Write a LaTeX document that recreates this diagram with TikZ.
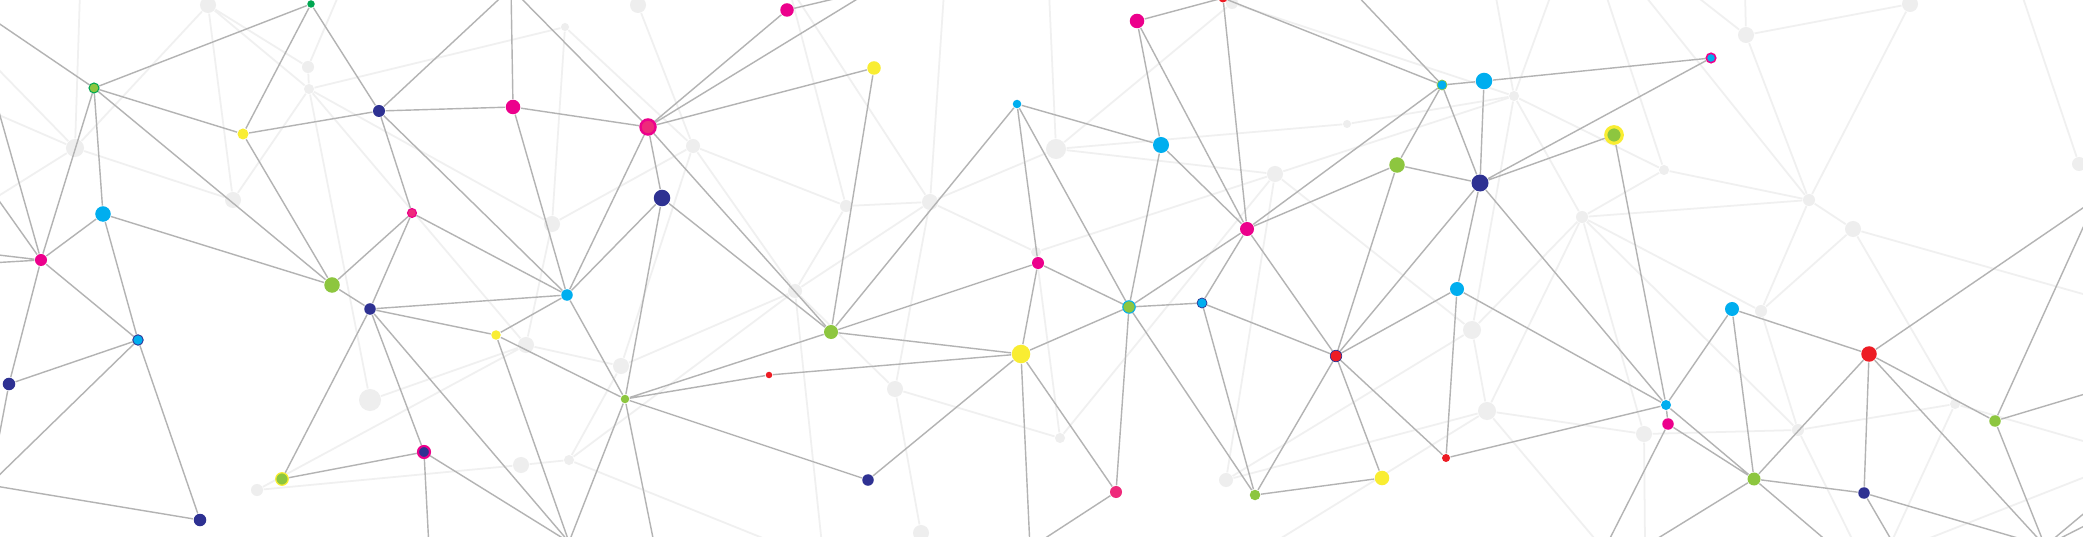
\documentclass[tikz,border=0pt]{standalone}
\definecolor{omag}{HTML}{EC008C}
\definecolor{opink}{HTML}{EE2A7B}
\definecolor{ocyan}{HTML}{00AEEF}
\definecolor{onavy}{HTML}{2E3192}
\definecolor{ogreen}{HTML}{8DC63F}
\definecolor{oleaf}{HTML}{00A651}
\definecolor{oyellow}{HTML}{F9ED32}
\definecolor{ored}{HTML}{ED1C24}
\definecolor{olink}{HTML}{B3B3B3}
\definecolor{ohaze}{HTML}{F0F0F0}
\definecolor{oghost}{HTML}{EEEEEE}
\pgfdeclarelayer{haze}
\pgfdeclarelayer{links}
\pgfsetlayers{haze,links,main}

\begin{document}
\begin{tikzpicture}[
  x=0.01cm, y=-0.01cm,
  dot/.style={circle, inner sep=0pt, minimum size=#1},
  magdot/.style={dot=#1, fill=omag},
  pinkdot/.style={dot=#1, fill=opink},
  cyandot/.style={dot=#1, fill=ocyan},
  navydot/.style={dot=#1, fill=onavy},
  greendot/.style={dot=#1, fill=ogreen},
  yellowdot/.style={dot=#1, fill=oyellow},
  reddot/.style={dot=#1, fill=ored},
  ghost/.style={dot=#1, fill=oghost},
  link/.style={draw=olink, line width=0.4pt},
  hazelink/.style={draw=ohaze, line width=0.5pt}
]
\useasboundingbox (0,0) rectangle (2083,537);

\begin{pgfonlayer}{haze}
\fill[white] (0,0) rectangle (2083,537);
\node[ghost=1.6mm] (f1) at (208,5) {};
\node[ghost=1.2mm] (f2) at (308,67) {};
\node[ghost=1.0mm] (f3) at (309,89) {};
\node[ghost=1.8mm] (f4) at (75,148) {};
\node[ghost=1.6mm] (f5) at (233,200) {};
\node[ghost=0.8mm] (f6) at (565,27) {};
\node[ghost=1.6mm] (f7) at (638,5) {};
\node[ghost=1.4mm] (f8) at (693,146) {};
\node[ghost=1.6mm] (f9) at (552,224) {};
\node[ghost=1.2mm] (f10) at (846,206) {};
\node[ghost=1.6mm] (f11) at (930,202) {};
\node[ghost=1.0mm] (f12) at (1036,252) {};
\node[ghost=2.0mm] (f13) at (1056,149) {};
\node[ghost=0.8mm] (f14) at (1347,124) {};
\node[ghost=1.6mm] (f15) at (1275,174) {};
\node[ghost=1.0mm] (f16) at (1514,96) {};
\node[ghost=1.2mm] (f17) at (1232,3) {};
\node[ghost=1.6mm] (f18) at (1746,35) {};
\node[ghost=1.6mm] (f19) at (1910,4) {};
\node[ghost=1.0mm] (f20) at (1664,170) {};
\node[ghost=1.2mm] (f21) at (1809,200) {};
\node[ghost=1.6mm] (f22) at (1853,229) {};
\node[ghost=1.2mm] (f23) at (1582,217) {};
\node[ghost=1.4mm] (f24) at (2079,164) {};
\node[ghost=2.2mm] (f25) at (370,400) {};
\node[ghost=1.2mm] (f26) at (257,490) {};
\node[ghost=1.6mm] (f27) at (521,465) {};
\node[ghost=1.6mm] (f28) at (526,345) {};
\node[ghost=1.6mm] (f29) at (621,366) {};
\node[ghost=1.0mm] (f30) at (569,460) {};
\node[ghost=1.4mm] (f31) at (795,291) {};
\node[ghost=1.6mm] (f32) at (895,389) {};
\node[ghost=1.6mm] (f33) at (921,533) {};
\node[ghost=1.0mm] (f34) at (1060,438) {};
\node[ghost=1.4mm] (f35) at (1226,480) {};
\node[ghost=1.8mm] (f36) at (1472,330) {};
\node[ghost=1.8mm] (f37) at (1487,411) {};
\node[ghost=1.2mm] (f38) at (1761,311) {};
\node[ghost=1.6mm] (f39) at (1644,434) {};
\node[ghost=1.2mm] (f40) at (1798,430) {};
\node[ghost=1.0mm] (f41) at (1955,404) {};

\coordinate (ft1) at (340,-8);
\coordinate (ft2) at (80,-8);
\coordinate (ft3) at (793,-8);
\coordinate (ft4) at (944,-8);
\coordinate (ft5) at (1049,-8);
\coordinate (ft6) at (1495,-8);
\coordinate (ft7) at (1552,-8);
\coordinate (ft8) at (1605,-8);
\coordinate (ft9) at (1642,-8);
\coordinate (ft10) at (1691,-8);
\coordinate (ft11) at (1745,-8);
\coordinate (ft12) at (2021,-8);
\coordinate (ft13) at (790,-8);
\coordinate (fl1) at (-8,63);
\coordinate (fl2) at (-8,112);
\coordinate (fl3) at (-8,200);
\coordinate (fr1) at (2090,296);
\coordinate (fr2) at (2090,443);
\coordinate (fr3) at (2090,475);
\coordinate (fb1) at (822,545);
\coordinate (fb2) at (780,545);
\coordinate (fb3) at (1270,545);
\coordinate (fb4) at (1600,545);
\coordinate (fb5) at (1645,545);
\coordinate (fb6) at (1855,545);
\coordinate (fb7) at (1890,545);
\coordinate (fb8) at (1912,545);

\draw[hazelink] (f1) -- (f2) (f1) -- (f3) (f1) -- (f5) (f1) -- (f4);
\draw[hazelink] (f2) -- (f3) (f2) -- (ft1);
\draw[hazelink] (f3) -- (f5) (f3) -- (f6) (f3) -- (f9) (f3) -- (f25) (f3) -- (f28);
\draw[hazelink] (f4) -- (ft2) (f4) -- (fl1) (f4) -- (fl2) (f4) -- (fl3) (f4) -- (f5);
\draw[hazelink] (f6) -- (f8) (f6) -- (f9) (f7) -- (f8);
\draw[hazelink] (f8) -- (f9) (f8) -- (f10) (f8) -- (f29) (f8) -- (f31) (f9) -- (f28);
\draw[hazelink] (f10) -- (f11) (f10) -- (f31) (f10) -- (ft13);
\draw[hazelink] (f11) -- (ft3) (f11) -- (ft4) (f11) -- (f12) (f11) -- (f13) (f11) -- (f32) (f11) -- (f31);
\draw[hazelink] (f12) -- (f15) (f12) -- (f34);
\draw[hazelink] (f13) -- (f14) (f13) -- (f15) (f13) -- (f17) (f13) -- (ft5) (f14) -- (f16);
\draw[hazelink] (f15) -- (f16) (f15) -- (f35) (f15) -- (f36) (f15) -- (f34);
\draw[hazelink] (f16) -- (f17) (f16) -- (ft6) (f16) -- (ft7) (f16) -- (f20) (f16) -- (f36) (f16) -- (f23);
\draw[hazelink] (f18) -- (f19) (f18) -- (f21) (f18) -- (ft10) (f18) -- (ft11) (f19) -- (f21);
\draw[hazelink] (f20) -- (f21) (f20) -- (f23) (f20) -- (ft8);
\draw[hazelink] (f21) -- (f23) (f21) -- (f22) (f21) -- (f38) (f21) -- (ft9);
\draw[hazelink] (f22) -- (f38) (f22) -- (f41) (f22) -- (fr1);
\draw[hazelink] (f23) -- (f36) (f23) -- (f37) (f23) -- (f38) (f23) -- (f39) (f23) -- (f40);
\draw[hazelink] (f24) -- (ft12);
\draw[hazelink] (f25) -- (f28) (f26) -- (f27) (f26) -- (f28) (f27) -- (f30) (f28) -- (f29);
\draw[hazelink] (f29) -- (f31) (f29) -- (f30) (f30) -- (f31) (f30) -- (fb2);
\draw[hazelink] (f31) -- (f32) (f31) -- (fb1) (f32) -- (f33) (f32) -- (f34);
\draw[hazelink] (f35) -- (f37) (f35) -- (f36) (f36) -- (f37);
\draw[hazelink] (f37) -- (f39) (f37) -- (fb3) (f37) -- (fb4);
\draw[hazelink] (f38) -- (f40) (f39) -- (f40) (f39) -- (fb5);
\draw[hazelink] (f40) -- (f41) (f40) -- (fb6) (f41) -- (fb7) (f41) -- (fr2) (fr3) -- (fb8);
\end{pgfonlayer}

\node[greendot=1.0mm, draw=oleaf, line width=0.3pt] (g1) at (94,88) {};
\node[dot=0.75mm, fill=oleaf] (dg) at (311,4) {};
\node[yellowdot=1.1mm] (y1) at (243,134) {};
\node[navydot=1.2mm] (n1) at (379,111) {};
\node[magdot=1.45mm] (m1) at (513,107) {};
\node[pinkdot=1.5mm, draw=omag, line width=0.7pt] (m2) at (648,127) {};
\node[navydot=1.65mm] (nv2) at (662,198) {};
\node[magdot=1.35mm] (m3) at (787,10) {};
\node[yellowdot=1.35mm] (y2) at (874,68) {};
\node[cyandot=0.85mm] (c1) at (1017,104) {};
\node[magdot=1.45mm] (m4) at (1137,21) {};
\node[reddot=0.9mm] (rt) at (1223,-2) {};
\node[cyandot=1.6mm] (c2) at (1161,145) {};
\node[magdot=1.4mm] (mc2) at (1247,229) {};
\node[cyandot=1.0mm, draw=ogreen, line width=0.2pt] (c3) at (1442,85) {};
\node[cyandot=1.65mm] (c4) at (1484,81) {};
\node[cyandot=0.95mm, draw=omag, line width=0.45pt] (mc) at (1711,58) {};
\node[greendot=1.65mm, draw=oyellow, line width=0.9pt] (gy) at (1614,135) {};
\node[greendot=1.55mm] (g2) at (1397,165) {};
\node[navydot=1.7mm] (nv3) at (1480,183) {};
\node[cyandot=1.55mm] (c5) at (103,214) {};
\node[magdot=1.2mm] (m6) at (41,260) {};
\node[pinkdot=0.9mm, draw=omag, line width=0.3pt] (m7) at (412,213) {};
\node[greendot=1.55mm] (g3) at (332,285) {};
\node[navydot=1.15mm] (nv4) at (370,309) {};
\node[cyandot=1.15mm] (c6) at (567,295) {};
\node[yellowdot=0.95mm] (y3) at (496,335) {};
\node[cyandot=1.05mm, draw=onavy, line width=0.25pt] (c7) at (138,340) {};
\node[navydot=1.25mm] (nv5) at (9,384) {};
\node[greendot=0.85mm] (g4) at (625,399) {};
\node[reddot=0.65mm] (r1) at (769,375) {};
\node[greendot=1.4mm] (g5) at (831,332) {};
\node[magdot=1.2mm] (m5) at (1038,263) {};
\node[yellowdot=1.85mm] (y4) at (1021,354) {};
\node[greendot=1.25mm, draw=ocyan, line width=0.3pt] (gc) at (1129,307) {};
\node[cyandot=1.0mm, draw=onavy, line width=0.2pt] (c8) at (1202,303) {};
\node[reddot=1.15mm, draw=onavy, line width=0.2pt] (r2) at (1336,356) {};
\node[cyandot=1.4mm] (c9) at (1457,289) {};
\node[greendot=1.25mm, draw=oyellow, line width=0.35pt] (g6) at (282,479) {};
\node[navydot=1.2mm, draw=omag, line width=0.6pt] (nvm) at (424,452) {};
\node[navydot=1.25mm] (nv6) at (200,520) {};
\node[navydot=1.15mm] (nv7) at (868,480) {};
\node[pinkdot=1.2mm] (m9) at (1116,492) {};
\node[greendot=1.05mm] (g7) at (1255,495) {};
\node[yellowdot=1.45mm] (y5) at (1382,478) {};
\node[reddot=0.8mm] (r3) at (1446,458) {};
\node[cyandot=1.0mm] (c10) at (1666,405) {};
\node[magdot=1.15mm] (m10) at (1668,424) {};
\node[cyandot=1.4mm] (c11) at (1732,309) {};
\node[reddot=1.55mm] (r4) at (1869,354) {};
\node[greendot=1.3mm] (g8) at (1754,479) {};
\node[navydot=1.15mm] (nv8) at (1864,493) {};
\node[greendot=1.15mm] (g9) at (1995,421) {};

\coordinate (tl) at (-15,14);
\coordinate (t1) at (511,-12);
\coordinate (t2) at (872,-10);
\coordinate (t3) at (1352,-10);
\coordinate (l1) at (-3,105);
\coordinate (l2) at (-10,188);
\coordinate (l3) at (-10,254);
\coordinate (l4) at (-10,263);
\coordinate (l5) at (-2,442);
\coordinate (l6) at (-11,485);
\coordinate (b1) at (569,542);
\coordinate (b2) at (655,548);
\coordinate (b3) at (1030,548);
\coordinate (b4) at (429,548);
\coordinate (b5) at (1605,548);
\coordinate (b6) at (1642,548);
\coordinate (b7) at (1835,548);
\coordinate (b8) at (1896,548);
\coordinate (b9) at (2045,546);
\coordinate (e1) at (2096,199);
\coordinate (e2) at (2095,391);
\coordinate (e3) at (2100,500);
\coordinate (e4) at (2100,518);

\begin{pgfonlayer}{links}
\draw[link] (tl) -- (g1) (g1) -- (dg) (g1) -- (y1) (g1) -- (g3) (g1) -- (m6) (g1) -- (c5);
\draw[link] (dg) -- (y1) (dg) -- (n1) (y1) -- (n1) (y1) -- (g3);
\draw[link] (n1) -- (t1) (n1) -- (m1) (n1) -- (m7) (n1) -- (c6);
\draw[link] (m1) -- (t1) (m1) -- (m2) (m1) -- (c6);
\draw[link] (m2) -- (t1) (m2) -- (m3) (m2) -- (t2) (m2) -- (y2) (m2) -- (nv2) (m2) -- (c6) (m2) -- (g5);
\draw[link] (m3) -- (t2) (nv2) -- (c6) (nv2) -- (g4) (nv2) -- (g5) (y2) -- (g5);
\draw[link] (c1) -- (g5) (c1) -- (m5) (c1) -- (c2) (c1) -- (gc);
\draw[link] (m4) -- (rt) (m4) -- (c2) (m4) -- (mc2) (rt) -- (mc2) (rt) -- (c3) (t3) -- (c3);
\draw[link] (c2) -- (mc2) (c2) -- (gc);
\draw[link] (mc2) -- (c3) (mc2) -- (g2) (mc2) -- (gc) (mc2) -- (c8) (mc2) -- (r2);
\draw[link] (c3) -- (g2) (c3) -- (c4) (c3) -- (nv3) (c4) -- (nv3) (c4) -- (mc);
\draw[link] (g2) -- (nv3) (g2) -- (r2);
\draw[link] (nv3) -- (r2) (nv3) -- (c9) (nv3) -- (c10) (nv3) -- (mc) (nv3) -- (gy) (gy) -- (c10);
\draw[link] (c5) -- (m6) (c5) -- (g3) (c5) -- (c7);
\draw[link] (m6) -- (c7) (m6) -- (nv5) (m6) -- (l1) (m6) -- (l2) (m6) -- (l3) (m6) -- (l4);
\draw[link] (m7) -- (g3) (m7) -- (nv4) (m7) -- (c6) (g3) -- (nv4);
\draw[link] (nv4) -- (c6) (nv4) -- (y3) (nv4) -- (g6) (nv4) -- (nvm) (nv4) -- (b1);
\draw[link] (y3) -- (c6) (y3) -- (g4) (y3) -- (b1);
\draw[link] (c7) -- (nv5) (c7) -- (nv6) (c7) -- (l6) (nv5) -- (l5) (l6) -- (nv6);
\draw[link] (g6) -- (nvm) (nvm) -- (b4) (nvm) -- (b1);
\draw[link] (c6) -- (g4) (g4) -- (g5) (g4) -- (r1) (g4) -- (nv7) (g4) -- (b1) (g4) -- (b2);
\draw[link] (g5) -- (y4) (g5) -- (m5) (r1) -- (y4);
\draw[link] (y4) -- (m5) (y4) -- (nv7) (y4) -- (b3) (y4) -- (gc) (y4) -- (m9) (m5) -- (gc);
\draw[link] (gc) -- (c8) (gc) -- (m9) (gc) -- (g7) (c8) -- (r2) (c8) -- (g7);
\draw[link] (r2) -- (g7) (r2) -- (y5) (r2) -- (r3) (r2) -- (c9);
\draw[link] (c9) -- (r3) (c9) -- (c10) (r3) -- (c10) (g7) -- (y5) (m9) -- (b3);
\draw[link] (c10) -- (c11) (c10) -- (m10) (c10) -- (g8) (m10) -- (g8) (m10) -- (b5);
\draw[link] (c11) -- (g8) (c11) -- (r4);
\draw[link] (r4) -- (g8) (r4) -- (nv8) (r4) -- (g9) (r4) -- (e1) (r4) -- (b9);
\draw[link] (g8) -- (nv8) (g8) -- (b6) (g8) -- (b7) (nv8) -- (b8) (nv8) -- (b9);
\draw[link] (g9) -- (e1) (g9) -- (e2) (g9) -- (b9) (b9) -- (e3) (b9) -- (e4);
\end{pgfonlayer}
\end{tikzpicture}
\end{document}
